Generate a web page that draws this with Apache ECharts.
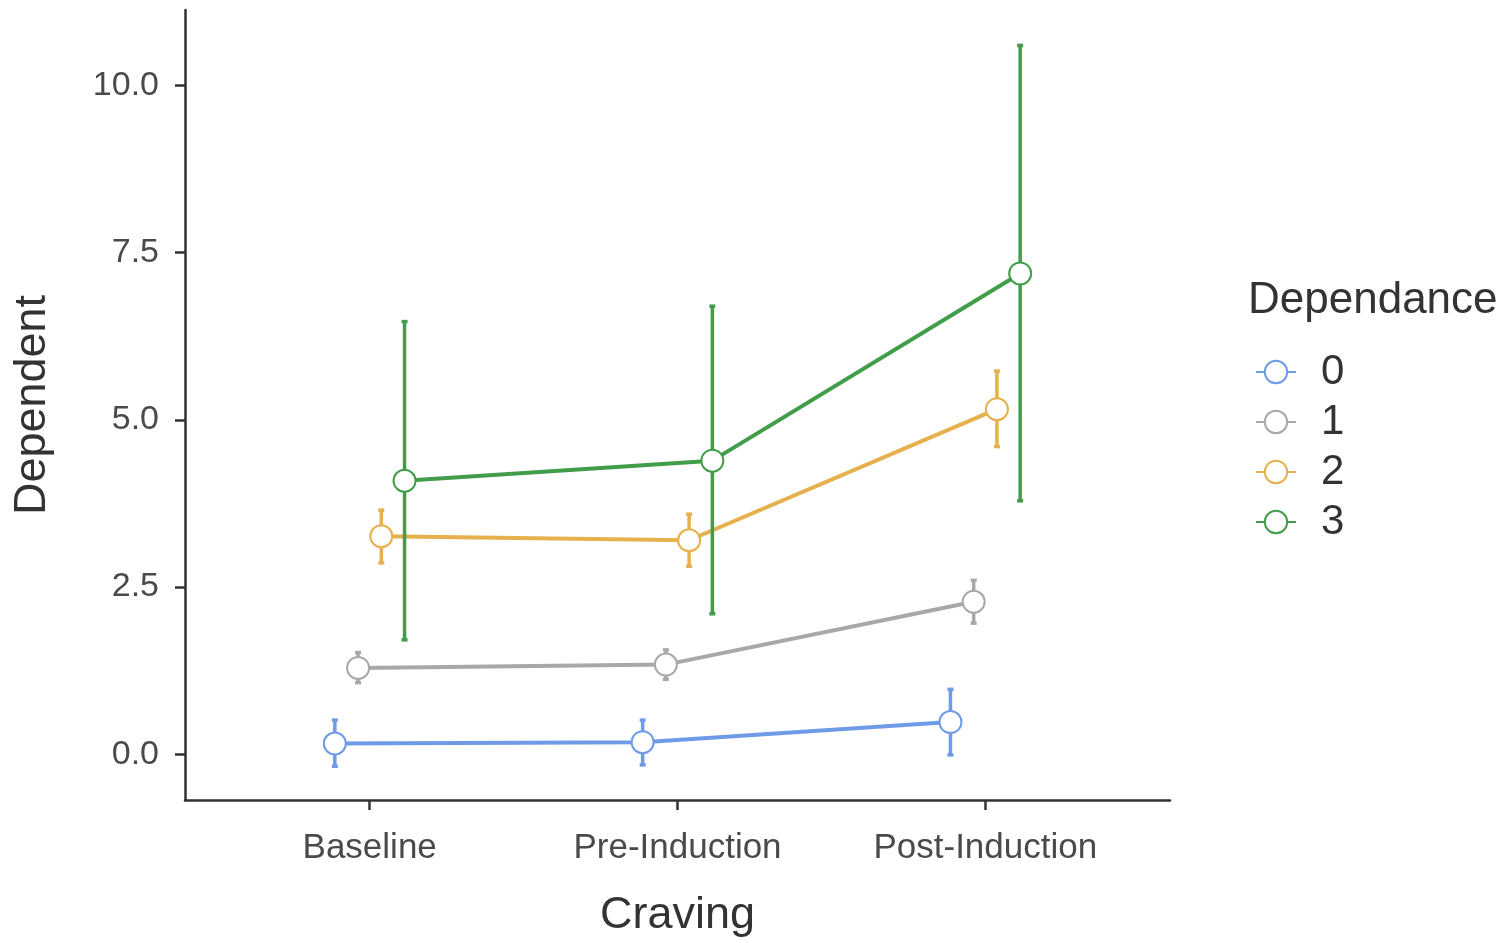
<!DOCTYPE html>
<html>
<head>
<meta charset="utf-8">
<script src="https://cdn.jsdelivr.net/npm/echarts@6/dist/echarts.min.js"></script>
<style>
	html, body { margin: 0; padding: 0; background: #fff; }
	#chart { width: 1512px; height: 943px; }
</style>
</head>
<body>
<div id="chart"></div>
<script>
const categories = ['Baseline', 'Pre-Induction', 'Post-Induction']
const groups = ['0', '1', '2', '3']
const colors = ['#6F9BE6', '#A8A8A8', '#E6B04C', '#429D4A']
const yTicks = [0, 2.5, 5, 7.5, 10]

// means and 95% CI per group, one value per craving phase
const means = [
	[0.16, 0.18, 0.48],
	[1.29, 1.34, 2.28],
	[3.26, 3.20, 5.16],
	[4.09, 4.39, 7.19]
]
const lower = [
	[-0.18, -0.16, -0.01],
	[1.07, 1.12, 1.96],
	[2.86, 2.81, 4.60],
	[1.71, 2.10, 3.79]
]
const upper = [
	[0.51, 0.51, 0.97],
	[1.52, 1.56, 2.60],
	[3.65, 3.59, 5.73],
	[6.47, 6.70, 10.60]
]

// dodge step between neighbouring groups, in category units
const dodge = 0.0755

function offsetFor(g) {
	return (g - (groups.length - 1) / 2) * dodge
}

function buildSeries() {
	const series = []

	groups.forEach((name, g) => {
		const off = offsetFor(g)

		series.push({
			type: 'custom',
			name: 'ci-' + name,
			z: 2 + g * 3,
			silent: true,
			data: categories.map((c, i) => [i + off, lower[g][i], upper[g][i]]),
			renderItem: (params, api) => {
				const top = api.coord([api.value(0), api.value(2)])
				const bot = api.coord([api.value(0), api.value(1)])
				const cap = 3
				const style = { stroke: colors[g], lineWidth: 3.5 }
				return {
					type: 'group',
					children: [
						{ type: 'line', shape: { x1: top[0], y1: top[1], x2: bot[0], y2: bot[1] }, style: style },
						{ type: 'line', shape: { x1: top[0] - cap, y1: top[1], x2: top[0] + cap, y2: top[1] }, style: style },
						{ type: 'line', shape: { x1: bot[0] - cap, y1: bot[1], x2: bot[0] + cap, y2: bot[1] }, style: style }
					]
				}
			}
		})

		series.push({
			type: 'line',
			name: name,
			z: 3 + g * 3,
			data: categories.map((c, i) => [i + off, means[g][i]]),
			symbol: 'emptyCircle',
			symbolSize: 22,
			itemStyle: { color: colors[g], borderWidth: 2 },
			lineStyle: { color: colors[g], width: 4 }
		})
	})

	return series
}

const chart = echarts.init(document.getElementById('chart'))

chart.setOption({
	animation: false,
	backgroundColor: '#ffffff',
	textStyle: { fontFamily: 'Liberation Sans' },
	title: {
		text: 'Dependance',
		left: 1243,
		top: 274,
		textStyle: { fontSize: 44, fontWeight: 'normal', color: '#333', fontFamily: 'Liberation Sans' }
	},
	legend: {
		orient: 'vertical',
		left: 1250,
		top: 346,
		itemWidth: 40,
		itemHeight: 28,
		itemGap: 8,
		data: groups,
		textStyle: { fontSize: 42, color: '#333', padding: [0, 0, 0, 20] }
	},
	grid: { left: 185, right: 342, top: 10, bottom: 140 },
	xAxis: {
		type: 'value',
		min: -0.6,
		max: 2.6,
		name: 'Craving',
		nameLocation: 'middle',
		nameGap: 93,
		nameTextStyle: { fontSize: 45, color: '#333' },
		splitLine: { show: false },
		axisLine: { onZero: false, lineStyle: { color: '#333', width: 2.5 } },
		axisTick: { customValues: [0, 1, 2], length: 10, lineStyle: { color: '#333', width: 2.5 } },
		axisLabel: {
			customValues: [0, 1, 2],
			margin: 31,
			fontSize: 35,
			color: '#4a4a4a',
			formatter: v => categories[Math.round(v)]
		}
	},
	yAxis: {
		type: 'value',
		min: -0.685,
		max: 11.13,
		name: 'Dependent',
		nameLocation: 'middle',
		nameRotate: 90,
		nameGap: 130,
		nameTextStyle: { fontSize: 45, color: '#333' },
		splitLine: { show: false },
		axisLine: { show: true, onZero: false, lineStyle: { color: '#333', width: 2.5 } },
		axisTick: { show: true, customValues: yTicks, length: 10, lineStyle: { color: '#333', width: 2.5 } },
		axisLabel: {
			customValues: yTicks,
			margin: 26,
			fontSize: 34,
			color: '#4a4a4a',
			formatter: v => v.toFixed(1)
		}
	},
	series: buildSeries()
})
</script>
</body>
</html>
